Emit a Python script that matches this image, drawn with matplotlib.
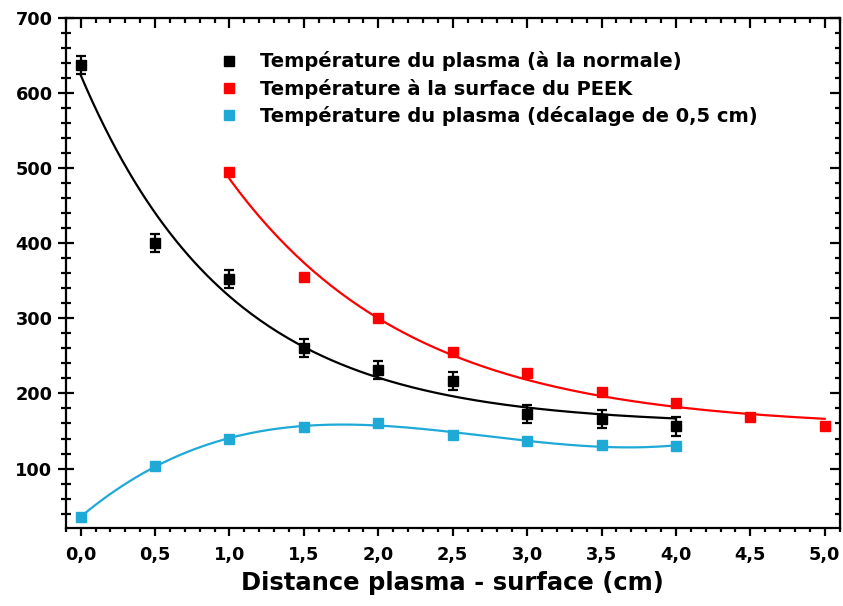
#!/usr/bin/env python3
import matplotlib
matplotlib.use("Agg")
import matplotlib.pyplot as plt
import numpy as np
from matplotlib.ticker import MultipleLocator, FuncFormatter

plt.rcParams.update({
    "font.family": ["DejaVu Sans"],
    "font.weight": "bold",
    "font.size": 12.8,
})

# données
x_normale = [0.0, 0.5, 1.0, 1.5, 2.0, 2.5, 3.0, 3.5, 4.0]
t_normale = [638, 401, 353, 260, 231, 216, 173, 166, 156]
err_normale = [12, 12, 12, 12, 12, 12, 12, 12, 12]

x_peek = [1.0, 1.5, 2.0, 2.5, 3.0, 3.5, 4.0, 4.5, 5.0]
t_peek = [495, 355, 301, 255, 227, 202, 187, 169, 156]

x_decal = [0.0, 0.5, 1.0, 1.5, 2.0, 2.5, 3.0, 3.5, 4.0]
t_decal = [35, 104, 140, 155, 161, 145, 137, 131, 130]

labels = ["Température du plasma (à la normale)",
          "Température à la surface du PEEK",
          "Température du plasma (décalage de 0,5 cm)"]

NOIR = "black"
ROUGE = "#ff0000"
CYAN = "#1fa9d6"


def ajust_exp(x, y):
    """y = y0 + A*exp(-(x-x0)/t), t cherché sur une grille."""
    x = np.asarray(x, float)
    y = np.asarray(y, float)
    best = None
    for t in np.linspace(0.2, 5, 500):
        M = np.column_stack([np.ones_like(x), np.exp(-(x - x[0]) / t)])
        coef, *_ = np.linalg.lstsq(M, y, rcond=None)
        r = np.sum((M @ coef - y) ** 2)
        if best is None or r < best[0]:
            best = (r, t, coef)
    _, t, (y0, A) = best
    return lambda xx: y0 + A * np.exp(-(xx - x[0]) / t)


fig = plt.figure(figsize=(8.43, 6.06), dpi=100)
ax = fig.add_axes([0.078, 0.129, 0.918, 0.841])

# courbes d'ajustement
xs = np.linspace(x_normale[0], x_normale[-1], 200)
ax.plot(xs, ajust_exp(x_normale, t_normale)(xs), color=NOIR, lw=1.6)
xs = np.linspace(x_peek[0], x_peek[-1], 200)
ax.plot(xs, ajust_exp(x_peek, t_peek)(xs), color=ROUGE, lw=1.6)
xs = np.linspace(x_decal[0], x_decal[-1], 200)
ax.plot(xs, np.polyval(np.polyfit(x_decal, t_decal, 3), xs), color=CYAN, lw=1.6)

# points
ax.errorbar(x_normale, t_normale, yerr=err_normale, fmt="none", ecolor=NOIR,
            elinewidth=1.6, capsize=3.5, capthick=1.6)
h1, = ax.plot(x_normale, t_normale, "s", color=NOIR, ms=7.5, label=labels[0])
h2, = ax.plot(x_peek, t_peek, "s", color=ROUGE, ms=7.5, label=labels[1])
h3, = ax.plot(x_decal, t_decal, "s", color=CYAN, ms=7.5, label=labels[2])

ax.set_xlim(-0.1, 5.1)
ax.set_ylim(21, 700)
ax.xaxis.set_major_locator(MultipleLocator(0.5))
ax.xaxis.set_minor_locator(MultipleLocator(0.1))
ax.yaxis.set_major_locator(MultipleLocator(100))
ax.yaxis.set_minor_locator(MultipleLocator(20))
ax.xaxis.set_major_formatter(FuncFormatter(lambda v, p: f"{v:.1f}".replace(".", ",")))
ax.set_yticks([100, 200, 300, 400, 500, 600, 700])

for s in ax.spines.values():
    s.set_linewidth(1.6)

ax.tick_params(axis="y", which="both", direction="inout", left=True, right=False,
               width=1.6)
ax.tick_params(axis="y", which="major", length=11, pad=4)
ax.tick_params(axis="y", which="minor", length=7)
ax.tick_params(axis="x", which="both", direction="out", width=1.6)
ax.tick_params(axis="x", which="major", length=6, pad=7)
ax.tick_params(axis="x", which="minor", length=3)

# graduations du haut et de droite vers l'intérieur
axt = ax.secondary_xaxis("top")
axt.xaxis.set_major_locator(MultipleLocator(0.5))
axt.xaxis.set_minor_locator(MultipleLocator(0.1))
axt.tick_params(which="both", direction="in", width=1.6, labeltop=False)
axt.tick_params(which="major", length=7)
axt.tick_params(which="minor", length=3.5)
axr = ax.secondary_yaxis("right")
axr.yaxis.set_major_locator(MultipleLocator(100))
axr.yaxis.set_minor_locator(MultipleLocator(20))
axr.tick_params(which="both", direction="in", width=1.6, labelright=False)
axr.tick_params(which="major", length=7)
axr.tick_params(which="minor", length=3.5)

ax.set_xlabel("Distance plasma - surface (cm)", fontweight="bold", fontsize=17.5,
              labelpad=5)

ax.legend([h1, h2, h3], labels, loc="upper left", bbox_to_anchor=(0.188, 0.95),
          frameon=False, fontsize=14, handlelength=1.0, handletextpad=1.1,
          labelspacing=0.38, borderaxespad=0)

fig.savefig("out.png", dpi=100)
